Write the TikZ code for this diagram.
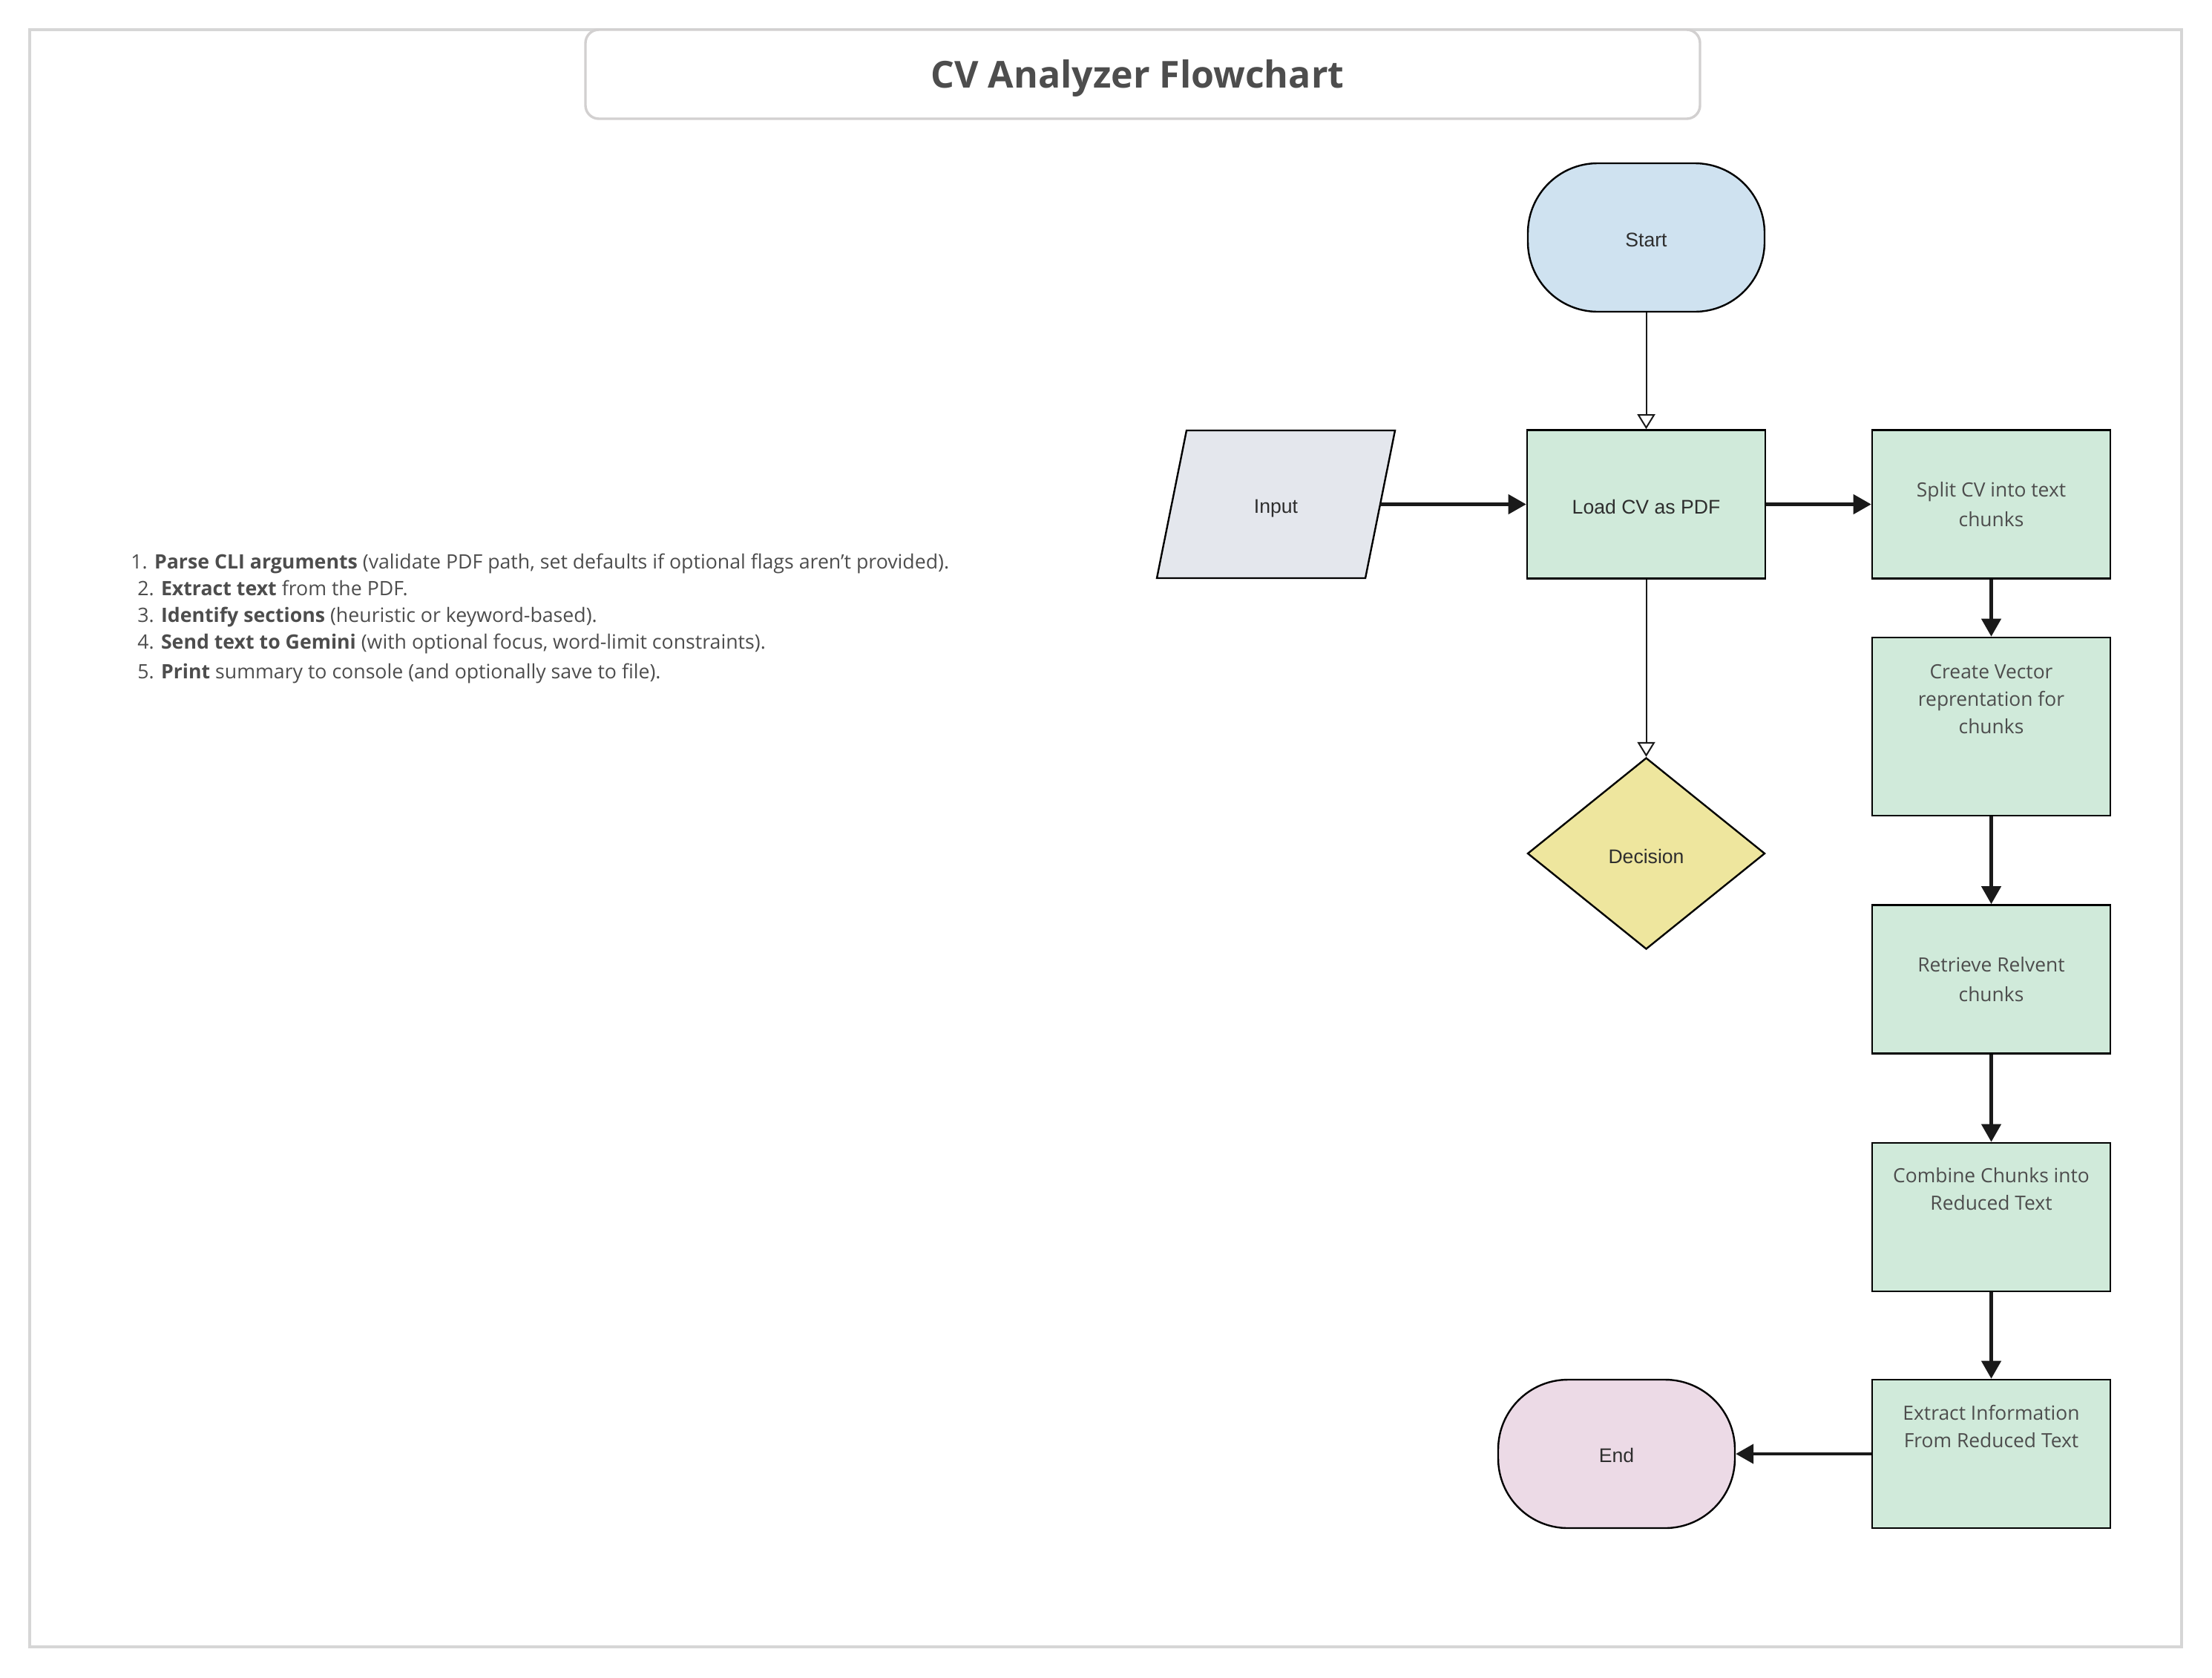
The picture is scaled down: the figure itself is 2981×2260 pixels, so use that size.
\documentclass[tikz,border=0pt]{standalone}
\usepackage{fontspec}
\setmainfont{Open Sans}
\newfontfamily\arialf{Liberation Sans}
\usetikzlibrary{arrows.meta,shapes.geometric}
\definecolor{framegray}{HTML}{D6D6D6}
\definecolor{titlegray}{HTML}{D2D0D0}
\definecolor{txtgray}{HTML}{4D4D4D}
\definecolor{darktxt}{HTML}{2E2E2E}
\definecolor{startblue}{HTML}{CFE2F0}
\definecolor{procgreen}{HTML}{D0EADA}
\definecolor{inputgray}{HTML}{E4E7ED}
\definecolor{decyellow}{HTML}{EEE69E}
\definecolor{endpink}{HTML}{ECDAE6}
\definecolor{arrowblack}{HTML}{1A1A1A}
\newcommand{\lowr}[2]{\raisebox{-#1}[\height][\depth]{#2}}
\tikzset{
  frameline/.style={draw=framegray, line width=1.7pt},
  titlebox/.style={draw=titlegray, line width=1.7pt, fill=white, rounded corners=9pt,
    minimum width=751pt, minimum height=60pt, inner sep=0pt},
  titletext/.style={inner sep=0pt, text=txtgray, font=\bfseries\fontsize{25}{28}\selectfont},
  procbox/.style={draw=black, line width=1.3pt, fill=procgreen, minimum width=160.5pt,
    minimum height=100pt, inner sep=0pt},
  ptext/.style={text=txtgray, align=center, inner sep=0pt,
    font=\fontsize{13.2}{18.5}\selectfont},
  ptextwide/.style={ptext, font=\fontsize{13.2}{20}\selectfont},
  terminal/.style={draw=black, line width=1.2pt, rounded corners=47pt,
    minimum width=159.5pt, minimum height=100pt, inner sep=0pt, text=darktxt,
    font=\arialf\fontsize{13.3}{16}\selectfont},
  inshape/.style={draw=black, line width=1.2pt, fill=inputgray},
  arialtext/.style={text=darktxt, inner sep=0pt, font=\arialf\fontsize{13.3}{16}\selectfont},
  decshape/.style={diamond, draw=black, line width=1.2pt, fill=decyellow,
    minimum width=160pt, minimum height=129pt, inner sep=0pt, aspect=1.24, text=darktxt,
    font=\arialf\fontsize{13.3}{16}\selectfont},
  listline/.style={anchor=base west, inner sep=0pt, text=txtgray,
    font=\fontsize{13.35}{18}\selectfont},
  flowarrow/.style={line width=2.2pt, draw=arrowblack,
    -{Triangle[length=12pt,width=13pt]}},
  openarrow/.style={line width=1pt, draw=arrowblack,
    -{Triangle[open,length=10pt,width=12pt,fill=white]}}
}
\begin{document}
\begin{tikzpicture}[x=0.5pt,y=-0.5pt]
\useasboundingbox (0,0) rectangle (2981,2260);
% outer frame
\draw[frameline] (40,40) rectangle (2940,2219);
% title
\node[titlebox] (title) at (1540,100) {};
\node[titletext] (titleT) at ([xshift=-3.5pt,yshift=-3pt]title.center) {CV Analyzer Flowchart};

% list of steps
\node[listline] (l1) at (176,766) {1. \textbf{Parse CLI arguments} (validate PDF path, set defaults if optional flags aren’t provided).};
\node[listline] (l2) at (185,802) {2. \textbf{Extract text} from the PDF.};
\node[listline] (l3) at (185,838) {3. \textbf{Identify sections} (heuristic or keyword-based).};
\node[listline] (l4) at (185,874) {4. \textbf{Send text to Gemini} (with optional focus, word-limit constraints).};
\node[listline] (l5) at (185,914) {5. \textbf{Print} summary to console (and optionally save to file).};

% flowchart nodes
\node[terminal, fill=startblue] (start) at (2218.5,320) {\lowr{1.5pt}{Start}};
\node[procbox] (load) at (2218.5,679.5) {};
\node[arialtext] (loadT) at ([yshift=-1.5pt]load.center) {Load CV as PDF};

% input parallelogram
\draw[inshape] (1599,580) -- (1880,580) -- (1840,779) -- (1559,779) -- cycle;
\node[arialtext, minimum width=140pt] (input) at (1719.5,679.5) {\lowr{3pt}{Input}};

\node[decshape] (dec) at (2218.5,1150) {\lowr{2pt}{Decision}};

\node[procbox] (split) at (2683.5,679.5) {};
\node[ptextwide] (splitT) at (split.center) {Split CV into text\\chunks};

\node[procbox, minimum height=120pt] (create) at (2683.5,979) {};
\node[ptext, anchor=north] (createT) at ([yshift=-18.5pt]create.north) {Create Vector\\reprentation for\\chunks};

\node[procbox] (retr) at (2683.5,1319.5) {};
\node[ptextwide] (retrT) at (retr.center) {Retrieve Relvent\\chunks};

\node[procbox] (comb) at (2683.5,1640) {};
\node[ptext, anchor=north] (combT) at ([yshift=-17pt]comb.north) {Combine Chunks into\\Reduced Text};

\node[procbox] (extr) at (2683.5,1959) {};
\node[ptext, anchor=north] (extrT) at ([yshift=-17.5pt]extr.north) {Extract Information\\From Reduced Text};

\node[terminal, fill=endpink] (end) at (2178.5,1959) {\lowr{1pt}{End}};

% connectors
\draw[openarrow] (start) -- (load);
\draw[openarrow] (load) -- (dec);
\draw[flowarrow] (input.east) -- (load.west);
\draw[flowarrow] (load) -- (split);
\draw[flowarrow] (split) -- (create);
\draw[flowarrow] (create) -- (retr);
\draw[flowarrow] (retr) -- (comb);
\draw[flowarrow] (comb) -- (extr);
\draw[flowarrow] (extr) -- (end);
\end{tikzpicture}
\end{document}
